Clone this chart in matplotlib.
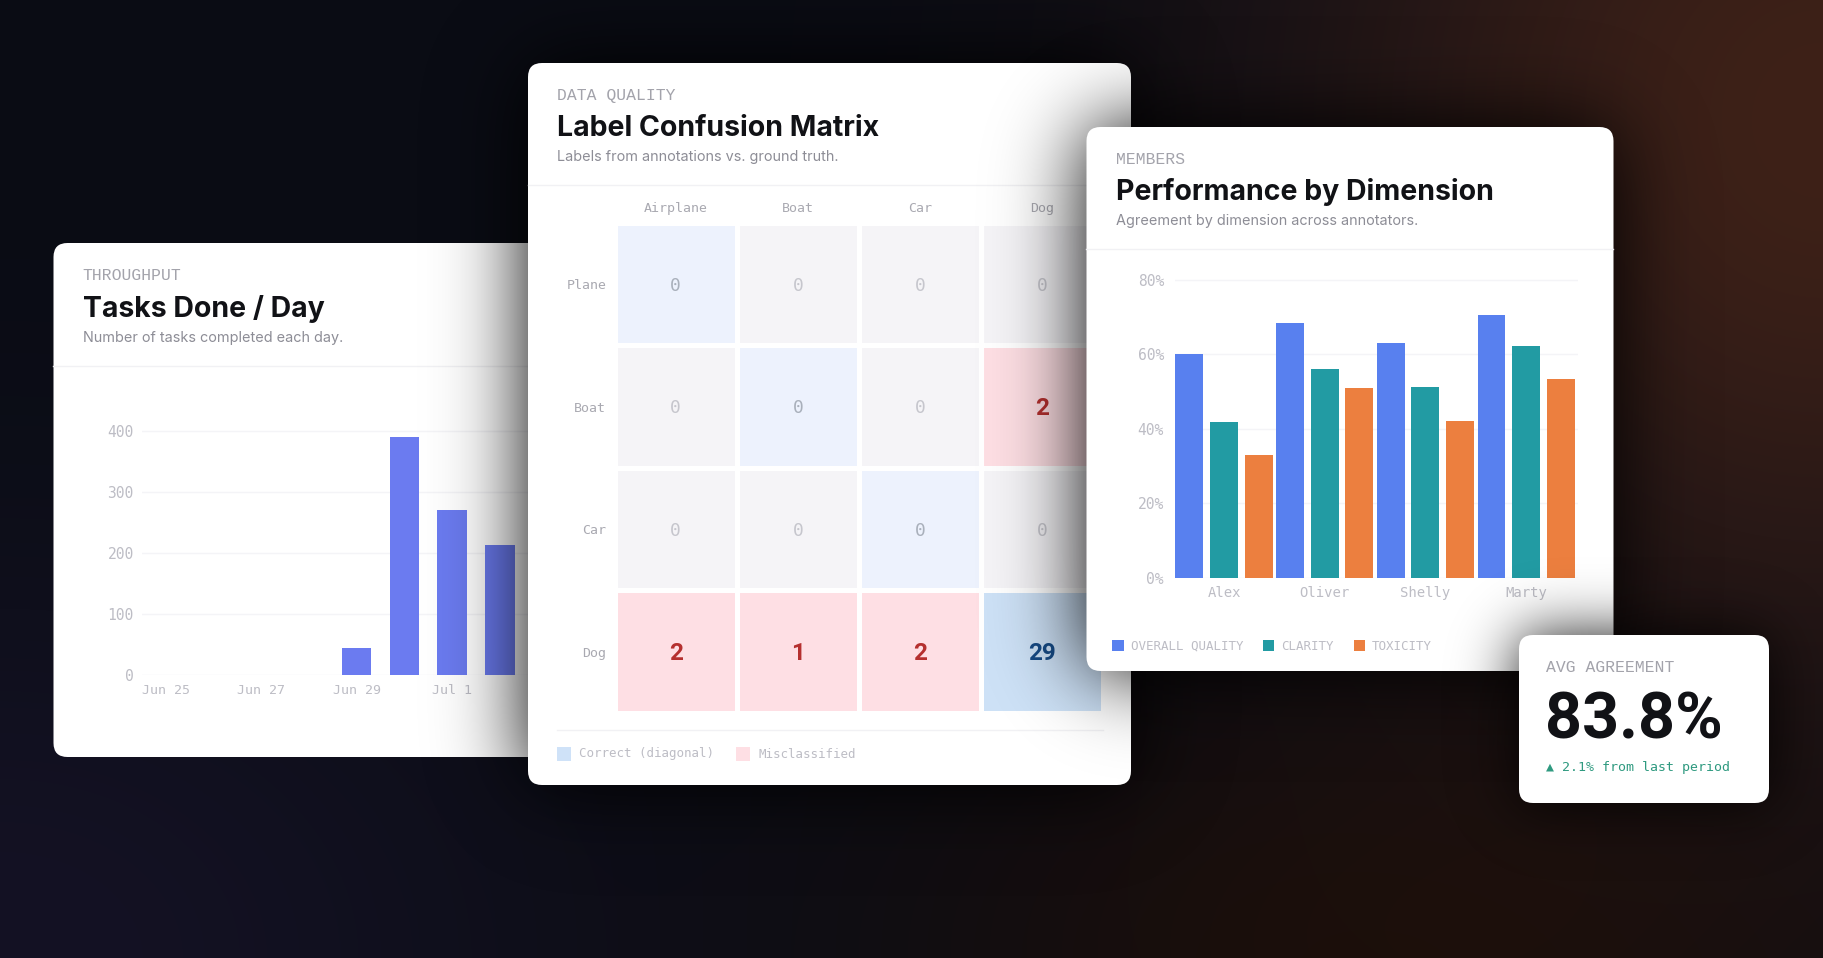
import math

import matplotlib
matplotlib.use("Agg")
import matplotlib.pyplot as plt
import numpy as np
from matplotlib.colors import ListedColormap
from matplotlib.patches import FancyBboxPatch, Rectangle

W, H = 1824, 958

# Tasks done / day
dias = ["Jun 25", "Jun 26", "Jun 27", "Jun 28", "Jun 29", "Jun 30", "Jul 1", "Jul 2"]
tasques = [0, 0, 0, 0, 44, 389, 269, 213]
ticks_dies = [0, 2, 4, 6]
ticks_tasques = [0, 100, 200, 300, 400]

# Confusion matrix
etiquetes_col = ["Airplane", "Boat", "Car", "Dog"]
etiquetes_fila = ["Plane", "Boat", "Car", "Dog"]
confusio = [
    [0, 0, 0, 0],
    [0, 0, 0, 2],
    [0, 0, 0, 0],
    [2, 1, 2, 29],
]

# Performance by dimension
membres = ["Alex", "Oliver", "Shelly", "Marty"]
overall_quality = [60.0, 68.4, 63.0, 70.5]
clarity = [41.9, 56.0, 51.1, 62.2]
toxicity = [33.0, 51.0, 42.1, 53.5]
ticks_pct = [0, 20, 40, 60, 80]

# KPI
avg_agreement = "83.8%"
delta_agreement = "▲ 2.1% from last period"

MONO = ["DejaVu Sans Mono"]
MONO2 = ["Liberation Mono", "DejaVu Sans Mono"]
SANS = ["Inter", "Roboto", "DejaVu Sans"]
NUMS = ["Roboto", "DejaVu Sans"]

C_EYEBROW = "#a3a3ab"
C_TITOL = "#111216"
C_SUB = "#8d8d96"
C_TICK = "#bdbdc5"
C_LINIA = "#f1f1f4"
C_GRID = "#f4f4f7"

fig = plt.figure(figsize=(W / 100, H / 100), dpi=100)


def capa(z):
    # Axes transparent que cobreix tota la figura, en coordenades de pixel
    ax = fig.add_axes([0, 0, 1, 1], zorder=z)
    ax.set_xlim(0, W)
    ax.set_ylim(H, 0)
    ax.axis("off")
    return ax


def axes_px(l, t, r, b, z):
    ax = fig.add_axes([l / W, 1 - b / H, (r - l) / W, (b - t) / H], zorder=z)
    ax.patch.set_alpha(0)
    for s in ax.spines.values():
        s.set_visible(False)
    ax.tick_params(length=0)
    return ax


def ombra(ax, l, t, r, b, sigma=42, forca=1.0):
    xs = np.arange(W) + 0.5
    ys = np.arange(H) + 0.5
    erf = np.vectorize(math.erf)
    fx = 0.5 * (erf((xs - l) / (sigma * 1.41)) - erf((xs - r) / (sigma * 1.41)))
    fy = 0.5 * (erf((ys - t) / (sigma * 1.41)) - erf((ys - b) / (sigma * 1.41)))
    rgba = np.zeros((H, W, 4))
    rgba[..., 3] = forca * np.outer(fy, fx)
    ax.imshow(rgba, extent=(0, W, H, 0), aspect="auto", interpolation="bilinear")
    ax.set_xlim(0, W)
    ax.set_ylim(H, 0)


def targeta(ax, l, t, r, b):
    ax.add_patch(FancyBboxPatch((l, t), r - l, b - t, boxstyle="round,pad=0,rounding_size=14",
                                fc="white", ec="none"))


def capcalera(ax, x, y, eyebrow, titol, sub, l, r):
    ax.text(x, y, eyebrow, family=MONO2, fontsize=11.8, color=C_EYEBROW, va="center")
    ax.text(x, y + 33, titol, family=SANS, fontsize=20.5, weight="bold", color=C_TITOL, va="center")
    ax.text(x, y + 62, sub, family=SANS, fontsize=10.4, color=C_SUB, va="center")
    ax.plot([l, r], [y + 90, y + 90], color=C_LINIA, lw=1)


# Fons fosc amb gradients
base = np.array([10, 12, 20]) / 255
marro = np.array([62, 33, 24]) / 255
blau = np.array([20, 18, 36]) / 255
marro2 = np.array([26, 14, 10]) / 255
yy, xx = np.mgrid[0:H, 0:W]
w1 = np.exp(-(((xx - 1824) / 520.0) ** 2 + ((yy - 120) / 560.0) ** 2))
w2 = np.exp(-(((xx - 0) / 560.0) ** 2 + ((yy - 958) / 420.0) ** 2))
w3 = np.exp(-(((xx - 1400) / 520.0) ** 2 + ((yy - 958) / 280.0) ** 2))
fons = base[None, None, :] * np.ones((H, W, 3))
for w, c in ((w3, marro2), (w2, blau), (w1, marro)):
    fons = fons + w[..., None] * (c - fons)

ax0 = capa(0)
ax0.imshow(fons, extent=(0, W, H, 0), aspect="auto")
ax0.set_xlim(0, W)
ax0.set_ylim(H, 0)

# Targeta 1: Tasks Done / Day
targeta(ax0, 53.5, 243, 620, 757)
capcalera(ax0, 82.6, 276, "THROUGHPUT", "Tasks Done / Day", "Number of tasks completed each day.", 53.5, 600)

ax1 = axes_px(142, 420, 600, 674.7, 1)
ax1.bar(range(len(tasques)), tasques, width=0.62, color="#6b7bf0", zorder=3)
ax1.set_xlim(-0.5, 9.1)
ax1.set_ylim(0, 417.2)
ax1.set_yticks(ticks_tasques)
ax1.set_xticks(ticks_dies, [dias[i] for i in ticks_dies])
ax1.grid(axis="y", color=C_GRID, lw=1, zorder=0)
ax1.set_axisbelow(True)
ax1.tick_params(axis="y", pad=6, labelsize=10.5, labelcolor=C_TICK)
ax1.tick_params(axis="x", pad=7, labelsize=9.5, labelcolor=C_TICK)
for t in ax1.get_xticklabels() + ax1.get_yticklabels():
    t.set_family(MONO)

# Targeta 2: Label Confusion Matrix
ax_o2 = capa(2)
ombra(ax_o2, 528, 63, 1131, 785)
targeta(ax_o2, 528, 63, 1131, 785)
capcalera(ax_o2, 557, 95, "DATA QUALITY", "Label Confusion Matrix", "Labels from annotations vs. ground truth.", 528, 1131)
ax_o2.plot([557, 1103], [729.5, 729.5], color=C_LINIA, lw=1)
ax_o2.add_patch(Rectangle((557, 746.5), 14, 14, fc="#cfe2f8", ec="none"))
ax_o2.text(579, 754, "Correct (diagonal)", family=MONO, fontsize=9, color=C_TICK, va="center")
ax_o2.add_patch(Rectangle((736.5, 746.5), 14, 14, fc="#fedfe4", ec="none"))
ax_o2.text(758.5, 754, "Misclassified", family=MONO, fontsize=9, color=C_TICK, va="center")

m = np.array(confusio)
n = m.shape[0]
# 0 = fora diagonal sense errors, 1 = diagonal buida, 2 = error, 3 = diagonal amb encerts
classe = np.zeros_like(m)
classe[(m > 0)] = 2
for i in range(n):
    classe[i, i] = 3 if m[i, i] > 0 else 1

ax2 = axes_px(614.6, 223, 1103.2, 712.8, 3)
ax2.pcolormesh(classe, cmap=ListedColormap(["#f5f4f7", "#edf2fd", "#fedfe4", "#cde1f6"]),
               vmin=0, vmax=3, edgecolors="white", linewidth=3.3)
ax2.set_xlim(0, n)
ax2.set_ylim(n, 0)
ax2.set_xticks(np.arange(n) + 0.5, etiquetes_col, family=MONO, fontsize=9.5, color="#a9a9b1")
ax2.set_yticks(np.arange(n) + 0.5, etiquetes_fila, family=MONO, fontsize=9.5, color="#a9a9b1")
ax2.xaxis.tick_top()
ax2.tick_params(axis="x", pad=5.7)
ax2.tick_params(axis="y", pad=6)
for i in range(n):
    for j in range(n):
        v = m[i, j]
        if v == 0:
            col = "#a9b0bb" if i == j else "#c6c6cd"
            ax2.text(j + 0.5, i + 0.513, str(v), family=MONO, fontsize=13, color=col, ha="center", va="center")
        else:
            col = "#164a85" if i == j else "#b5302f"
            ax2.text(j + 0.5, i + 0.513, str(v), family=NUMS, fontsize=17.5,
                     weight="bold", color=col, ha="center", va="center")

# Targeta 3: Performance by Dimension
ax_o3 = capa(4)
ombra(ax_o3, 1086.5, 127, 1613.5, 671)
targeta(ax_o3, 1086.5, 127, 1613.5, 671)
capcalera(ax_o3, 1115.6, 159, "MEMBERS", "Performance by Dimension", "Agreement by dimension across annotators.", 1086.5, 1613.5)
llegenda = [
    (1112.5, "OVERALL QUALITY", "#5880ef"),
    (1263, "CLARITY", "#229ba3"),
    (1353.6, "TOXICITY", "#ec7f3f"),
]
for x, nom, c in llegenda:
    ax_o3.add_patch(Rectangle((x, 639.5), 11.5, 11.5, fc=c, ec="none"))
    ax_o3.text(x + 18.5, 646, nom, family=MONO, fontsize=9, color=C_TICK, va="center")

ax3 = axes_px(1175, 270, 1578, 577.5, 5)
pos = np.arange(len(membres))
ax3.bar(pos - 0.344, overall_quality, width=0.277, color="#5880ef", zorder=3)
ax3.bar(pos, clarity, width=0.277, color="#229ba3", zorder=3)
ax3.bar(pos + 0.344, toxicity, width=0.277, color="#ec7f3f", zorder=3)
ax3.set_xlim(-0.487, 3.515)
ax3.set_ylim(0, 82.7)
ax3.set_xticks(pos, membres)
ax3.set_yticks(ticks_pct, [f"{v}%" for v in ticks_pct])
ax3.grid(axis="y", color=C_GRID, lw=1, zorder=0)
ax3.set_axisbelow(True)
ax3.tick_params(axis="y", pad=8, labelsize=10.5, labelcolor=C_TICK)
ax3.tick_params(axis="x", pad=6, labelsize=10, labelcolor=C_TICK)
for t in ax3.get_xticklabels() + ax3.get_yticklabels():
    t.set_family(MONO)

# Targeta 4: KPI
ax_o4 = capa(6)
ombra(ax_o4, 1519, 635, 1769, 803, sigma=30, forca=0.9)
targeta(ax_o4, 1519, 635, 1769, 803)
ax_o4.text(1546, 667, "AVG AGREEMENT", family=MONO2, fontsize=11.8, color=C_EYEBROW, va="center")
ax_o4.text(1545, 721, avg_agreement, family=NUMS, fontsize=46.5, weight="bold", color=C_TITOL, va="center")
ax_o4.text(1546, 768, delta_agreement, family=MONO, fontsize=9.5, color="#2f9a80", va="center")

fig.savefig("out.png", dpi=100)
